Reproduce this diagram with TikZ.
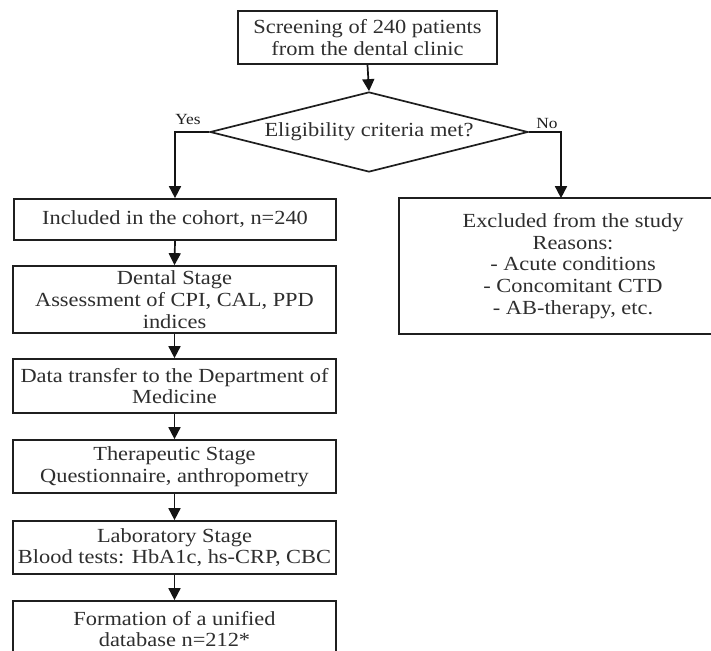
\documentclass[tikz,border=0pt]{standalone}
\usepackage{fontspec}
\setmainfont{Liberation Serif}[FakeStretch=1.12]
\usetikzlibrary{shapes.geometric,arrows.meta}
\begin{document}
\begin{tikzpicture}[x=1pt,y=-1pt,
  box/.style={draw=black!88, line width=1.7pt, text=black!82, align=center, inner sep=0pt,
              font=\fontsize{20}{21.7}\selectfont},
  openbox/.style={box, draw=none},
  boxline/.style={draw=black!88, line width=1.7pt},
  arr/.style={draw=black!92, line width=1.7pt, -{Triangle[length=12pt,width=12pt]}},
  lbl/.style={text=black!88, inner sep=0pt, font=\fontsize{15.5}{17}\selectfont}]
\useasboundingbox (0,0) rectangle (711,650);
\clip (0,0) rectangle (711,650);
\fill[white] (0,0) rectangle (711,650);
\node[box, minimum width=259, minimum height=53] (scr) at (367.5,37.5)
  {Screening of 240 patients\\from the dental clinic};
\node[box, diamond, shape aspect=3.975, minimum width=318, minimum height=80] (dia) at (369,132)
  {Eligibility criteria met?};
\node[box, minimum width=322, minimum height=41] (inc) at (175,219.5)
  {Included in the cohort, n=240};
\node[box, minimum width=323, minimum height=67] (den) at (174.5,299.5)
  {Dental Stage\\Assessment of CPI, CAL, PPD\\indices};
\node[box, minimum width=323, minimum height=54] (dat) at (174.5,386)
  {Data transfer to the Department of\\Medicine};
\node[box, minimum width=323, minimum height=53] (the) at (174.5,466.5)
  {Therapeutic Stage\\Questionnaire, anthropometry};
\node[box, minimum width=323, minimum height=53] (lab) at (174.5,547.5)
  {Laboratory Stage\\Blood tests: HbA1c, hs-CRP, CBC};
\node[box, minimum width=323, minimum height=56] (frm) at (174.5,629)
  {Formation of a unified\\database n=212*};
\node[openbox, minimum width=346, minimum height=134] (exc) at (573,266)
  {Excluded from the study\\Reasons:\\- Acute conditions\\- Concomitant CTD\\- AB-therapy, etc.};
\draw[boxline] (exc.north east) -- (exc.north west) -- (exc.south west) -- (exc.south east);
\node[lbl] (yes) at (188,120) {Yes};
\node[lbl] (no) at (547,124) {No};
\draw[arr] (scr.south) -- (dia.north);
\draw[arr] (dia.west) -| (inc.north);
\draw[arr] (dia.east) -| ([xshift=-12pt]exc.north);
\draw[arr] (inc.south) -- (den.north);
\draw[arr] (den.south) -- (dat.north);
\draw[arr] (dat.south) -- (the.north);
\draw[arr] (the.south) -- (lab.north);
\draw[arr] (lab.south) -- (frm.north);
\end{tikzpicture}
\end{document}
